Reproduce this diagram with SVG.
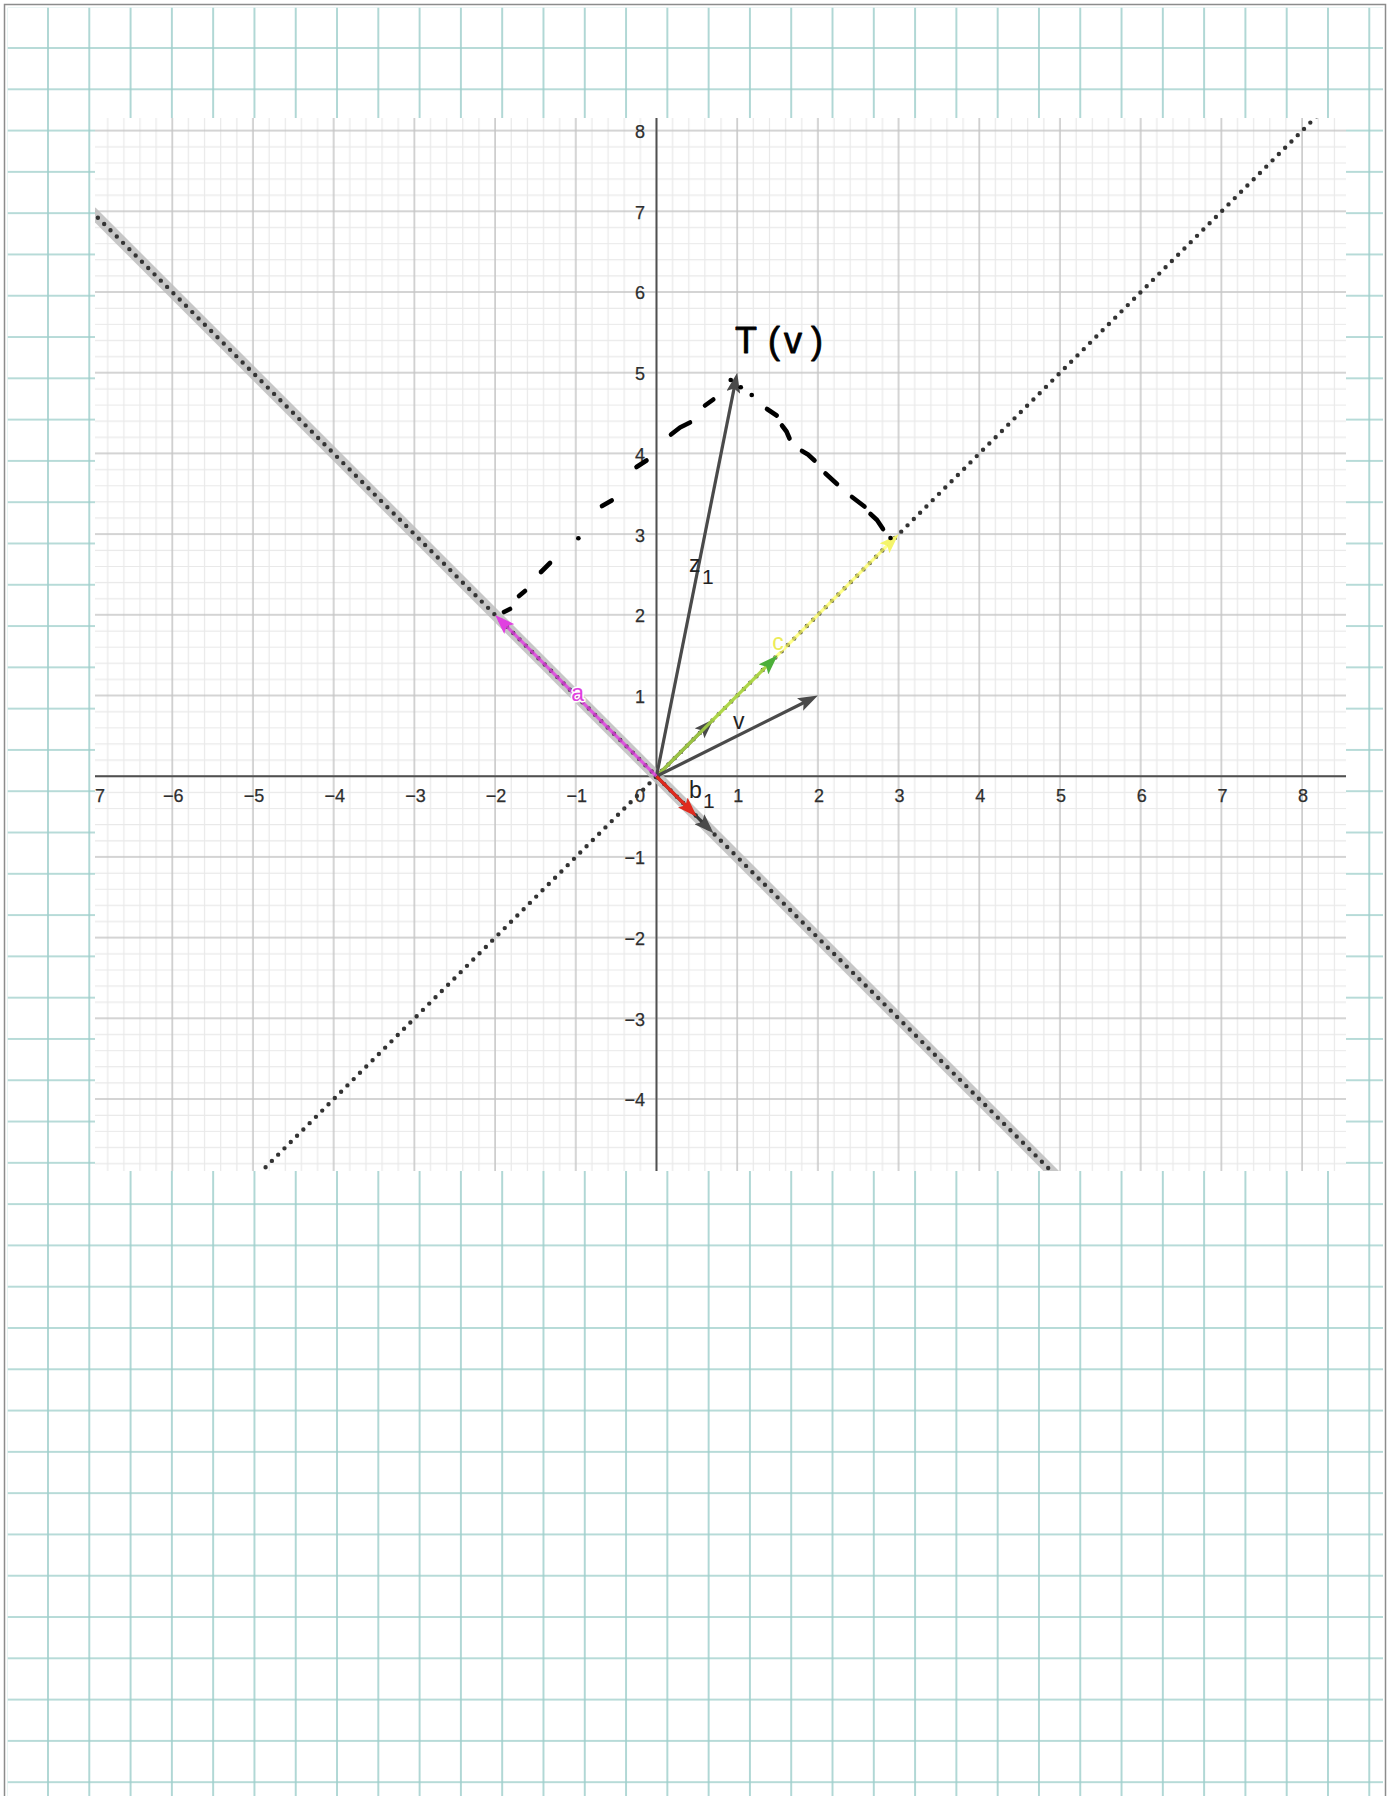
<svg xmlns="http://www.w3.org/2000/svg" width="1389" height="1796" viewBox="0 0 1389 1796">
<style>
.ax{font-family:"Liberation Sans",Arial,sans-serif;font-size:18px;fill:#2e2e2e;stroke:#2e2e2e;stroke-width:0.25}
.lbl{font-family:"Liberation Sans",Arial,sans-serif;font-size:23px}
.dots{fill:none;stroke:#333;stroke-width:4.4;stroke-linecap:round;stroke-dasharray:0 8.9}
.band{fill:none;stroke:#bdbdbd;stroke-width:11;stroke-opacity:0.85}
.vec{fill:none;stroke-width:3.2}
.hand{fill:none;stroke:#000;stroke-width:4.6;stroke-linecap:round;stroke-linejoin:round}
.halo{paint-order:stroke;stroke:#fff;stroke-width:3;stroke-linejoin:round}
</style>
<defs>
<pattern id="teal" patternUnits="userSpaceOnUse" x="27.355" y="27.355" width="41.29" height="41.29">
<path d="M20.645,0 V41.29 M0,20.645 H41.29" stroke="#9fcfcc" stroke-width="1.6" fill="none"/>
</pattern>
<pattern id="gg" patternUnits="userSpaceOnUse" x="648.43" y="768.23" width="80.7" height="80.7">
<path d="M24.21,0 V80.7 M40.35,0 V80.7 M56.49,0 V80.7 M72.63,0 V80.7 M0,24.21 H80.7 M0,40.35 H80.7 M0,56.49 H80.7 M0,72.63 H80.7" stroke="#e9e9e9" stroke-width="1.2" fill="none"/>
<path d="M8.07,0 V80.7 M0,8.07 H80.7" stroke="#c6c6c6" stroke-width="1.5" fill="none"/>
</pattern>
<clipPath id="gclip"><rect x="95" y="118" width="1251" height="1053"/></clipPath>
<marker id="ahDark" viewBox="0 0 20 14" refX="13" refY="7" markerWidth="20" markerHeight="14" markerUnits="userSpaceOnUse" orient="auto"><path d="M0,0 L20,7 L0,14 L4,7 z" fill="#4a4a4a"/></marker>
<marker id="ahMag" viewBox="0 0 20 14" refX="13" refY="7" markerWidth="20" markerHeight="14" markerUnits="userSpaceOnUse" orient="auto"><path d="M0,0 L20,7 L0,14 L4,7 z" fill="#e040e0"/></marker>
<marker id="ahYel" viewBox="0 0 20 14" refX="13" refY="7" markerWidth="20" markerHeight="14" markerUnits="userSpaceOnUse" orient="auto"><path d="M0,0 L20,7 L0,14 L4,7 z" fill="#f4f46a"/></marker>
<marker id="ahGrn" viewBox="0 0 20 14" refX="13" refY="7" markerWidth="20" markerHeight="14" markerUnits="userSpaceOnUse" orient="auto"><path d="M0,0 L20,7 L0,14 L4,7 z" fill="#4caf3a"/></marker>
<marker id="ahRed" viewBox="0 0 20 14" refX="13" refY="7" markerWidth="20" markerHeight="14" markerUnits="userSpaceOnUse" orient="auto"><path d="M0,0 L20,7 L0,14 L4,7 z" fill="#e02a1e"/></marker>
</defs>

<g id="paper">
<rect x="0" y="0" width="1389" height="1796" fill="#fff"/>
<rect x="7.6" y="7.6" width="1375.4" height="1788.4" fill="url(#teal)"/>
<path d="M4.5,1796 V4.5 H1385.5 V1796" fill="none" stroke="#8c8c8c" stroke-width="1.5"/>
</g>

<g id="graph">
<rect x="95" y="118" width="1251" height="1053" fill="#fff"/>
<rect x="95" y="118" width="1251" height="1053" fill="url(#gg)"/>
<path d="M95,776.3 H1346 M656.5,118 V1171" stroke="#505050" stroke-width="1.9" fill="none"/>
</g>

<g id="axis-labels" class="ax">
<text x="95" y="802">7</text>
<g text-anchor="middle">
<text x="173.3" y="802">−6</text>
<text x="254" y="802">−5</text>
<text x="334.7" y="802">−4</text>
<text x="415.4" y="802">−3</text>
<text x="496.1" y="802">−2</text>
<text x="576.8" y="802">−1</text>
<text x="738.2" y="802">1</text>
<text x="818.9" y="802">2</text>
<text x="899.6" y="802">3</text>
<text x="980.3" y="802">4</text>
<text x="1061" y="802">5</text>
<text x="1141.7" y="802">6</text>
<text x="1222.4" y="802">7</text>
<text x="1303.1" y="802">8</text>
</g>
<g text-anchor="end">
<text x="645" y="802">0</text>
<text x="645" y="138">8</text>
<text x="645" y="218.7">7</text>
<text x="645" y="299.4">6</text>
<text x="645" y="380.1">5</text>
<text x="645" y="460.8">4</text>
<text x="645" y="541.5">3</text>
<text x="645" y="622.2">2</text>
<text x="645" y="702.9">1</text>
<text x="645" y="864.3">−1</text>
<text x="645" y="945">−2</text>
<text x="645" y="1025.7">−3</text>
<text x="645" y="1106.4">−4</text>
</g>
</g>

<g id="connectors">
<g id="lines" clip-path="url(#gclip)">
<path class="band" d="M91.6,211.4 L1060,1179.8"/>
<path class="dots" d="M91.6,211.4 L1060,1179.8"/>
<path class="dots" d="M253,1179.8 L1342.5,90.4"/>
</g>
<g id="vectors">
<path class="vec" d="M656.5,776.3 L893.65,539.15" stroke="#ffff66" stroke-width="6" stroke-opacity="0.75" marker-end="url(#ahYel)"/>
<path class="vec" d="M656.5,776.3 L708.61,724.19" stroke="#4a4a4a" marker-end="url(#ahDark)"/>
<path class="vec" d="M656.5,776.3 L772.6,660.2" stroke="#a4d245" stroke-width="4.2" stroke-opacity="0.9" marker-end="url(#ahGrn)"/>
<path class="vec" d="M656.5,776.3 L811.64,698.73" stroke="#4a4a4a" marker-end="url(#ahDark)"/>
<path class="vec" d="M656.5,776.3 L735.83,379.66" stroke="#4a4a4a" marker-end="url(#ahDark)"/>
<path class="vec" d="M656.5,776.3 L500.05,619.85" stroke="#e040e0" stroke-width="5" stroke-opacity="0.82" marker-end="url(#ahMag)"/>
<path class="vec" d="M656.5,776.3 L708.61,828.41" stroke="#3a3a3a" marker-end="url(#ahDark)"/>
<path class="vec" d="M656.5,776.3 L691.9,811.7" stroke="#e02a1e" stroke-width="3.6" marker-end="url(#ahRed)"/>
</g>
<g id="hand-dashes" class="hand">
<path d="M504,612 L510,609"/>
<path d="M519,596 L525,591"/>
<path d="M541,572 L550,563"/>
<path d="M578.3,538.3 L578.4,538.3"/>
<path d="M602,506 L611.7,500.5"/>
<path d="M636.5,467 L646.5,460.5"/>
<path d="M671,434.5 L680,427.5 L690,422.5"/>
<path d="M705,405.5 L713.3,399.5"/>
<path d="M730.7,380 L730.8,380"/>
<path d="M740.7,387.3 L740.8,387.3"/>
<path d="M751.7,395 L751.8,395"/>
<path d="M767,409 L776.7,415.5"/>
<path d="M782,425.5 L786.5,431.5 L789.5,438.5"/>
<path d="M802,451 L808,454.5 L814.5,460.5"/>
<path d="M825.5,473.5 L837,484"/>
<path d="M852,497 L864.5,506.5"/>
<path d="M870.5,514 L877,520 L883,529"/>
<path d="M890.5,538 L890.6,538"/>
</g>
</g>

<g id="labels">
<text class="lbl" x="689" y="572" fill="#222">z<tspan x="702" y="584" font-size="21">1</tspan></text>
<text class="lbl" x="733" y="728.5" fill="#222">v</text>
<text class="lbl halo" x="577.7" y="700.5" text-anchor="middle" fill="#e040e0">a</text>
<text class="lbl halo" x="778" y="649.5" text-anchor="middle" fill="#ecec5a">c</text>
<text class="lbl" x="689" y="798" fill="#222">b<tspan x="703" y="808" font-size="21">1</tspan></text>
<text x="735 768 784 811" y="353" font-family="Liberation Sans, Arial, sans-serif" font-size="36" fill="#000" stroke="#000" stroke-width="0.8" stroke-linejoin="round">T(v)</text>
</g>
</svg>
